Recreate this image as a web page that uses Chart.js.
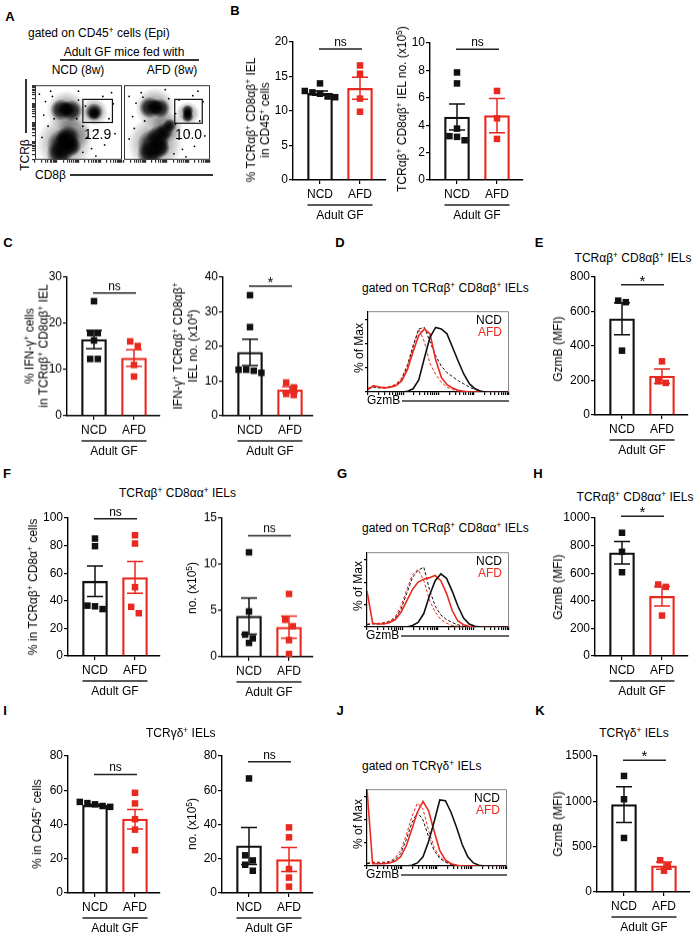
<!DOCTYPE html>
<html>
<head>
<meta charset="utf-8">
<script src="https://cdn.jsdelivr.net/npm/chart.js@4.4.1/dist/chart.umd.min.js"></script>
<style>
  body { margin: 0; background: #fff; }
  #fig { position: relative; width: 697px; height: 936px; overflow: hidden; font-family: "Liberation Sans", Arial, Helvetica, sans-serif; color: #000; }
  .t { position: absolute; white-space: nowrap; line-height: 1; }
  canvas { position: absolute; }
  sup { font-size: 70%; vertical-align: 0.45em; line-height: 0; }
  .ln { position: absolute; background: #333; }
</style>
</head>
<body>
<div id="fig"></div>
<script>
/* --- DATA --- */

const groups = ['NCD', 'AFD'];

// B: TCRab+ CD8ab+ IEL
const bPctMean = [12.6, 13.3];
const bPctSem = [0.3, 1.6];
const bPctNCD = [14.0, 12.9, 12.7, 12.5, 12.1, 12.0];
const bPctAFD = [16.6, 15.4, 11.8, 9.9];
const bNoMean = [4.6, 4.7];
const bNoSem = [0.95, 1.25];
const bNoNCD = [7.85, 7.05, 3.75, 3.2, 3.15, 2.9];
const bNoAFD = [6.5, 4.5, 3.0];

// C: IFN-g+
const cPctMean = [16.5, 12.5];
const cPctSem = [2.0, 1.8];
const cPctNCD = [24.8, 17.9, 17.9, 16.3, 12.3, 12.3];
const cPctAFD = [16.1, 15.1, 11.0, 8.5];
const cNoMean = [18.3, 7.5];
const cNoSem = [3.8, 0.9];
const cNoNCD = [34.8, 25.6, 13.3, 13.3, 13.0, 12.4];
const cNoAFD = [9.6, 8.2, 6.3, 6.0];

// E: GzmB MFI, CD8ab
const eMean = [558, 225];
const eSem = [93, 42];
const eNCD = [663, 654, 373];
const eAFD = [311, 196, 186];

// F: TCRab+ CD8aa+
const fPctMean = [54.2, 56.9];
const fPctSem = [11.0, 11.5];
const fPctNCD = [85.1, 79.6, 36.5, 36.0, 34.0];
const fPctAFD = [87.5, 81.5, 49.9, 35.6, 31.0];
const fNoMean = [4.4, 3.2];
const fNoSem = [1.95, 1.2];
const fNoNCD = [11.3, 4.9, 2.4, 2.0, 1.5];
const fNoAFD = [6.8, 4.0, 3.3, 1.8, 0.3];

// H: GzmB MFI, CD8aa
const hMean = [748, 433];
const hSem = [82, 70];
const hNCD = [893, 755, 607];
const hAFD = [518, 501, 293];

// I: TCRgd+
const iPctMean = [51.2, 43.1];
const iPctSem = [0.6, 5.7];
const iPctNCD = [53.2, 52.5, 51.8, 50.8, 50.3];
const iPctAFD = [58.5, 52.3, 43.1, 37.0, 25.0];
const iNoMean = [27.5, 19.5];
const iNoSem = [10.8, 7.0];
const iNoNCD = [66.9, 22.0, 19.0, 16.5, 13.0];
const iNoAFD = [38.3, 32.5, 14.0, 9.0, 3.7];

// K: GzmB MFI, TCRgd
const kMean = [964, 290];
const kSem = [197, 40];
const kNCD = [1280, 1023, 596];
const kAFD = [350, 290, 235];

// histograms (GzmB channel 0-100, % of max)
const histX = [0, 4, 8, 12, 16, 20, 24, 28, 32, 36, 40, 44, 48, 52, 56, 60, 64, 68, 72, 76, 80, 84, 88, 92, 96, 100];
const dNCD    = [0, 0, 0, 0, 0, 0, 0, 1, 4, 15, 42, 68, 80, 78, 72, 55, 38, 22, 10, 4, 1, 0, 0, 0, 0, 0];
const dAFD    = [3, 8, 6, 5, 6, 8, 14, 28, 50, 70, 78, 72, 40, 18, 9, 5, 2, 1, 0, 0, 0, 0, 0, 0, 0, 0];
const dNCDiso = [4, 6, 5, 5, 6, 9, 16, 32, 56, 78, 80, 62, 45, 32, 24, 19, 14, 10, 6, 3, 1, 0, 0, 0, 0, 0];
const dAFDiso = [5, 7, 6, 6, 7, 10, 18, 34, 58, 78, 62, 35, 22, 12, 6, 3, 1, 0, 0, 0, 0, 0, 0, 0, 0, 0];
const gNCD    = [0, 0, 0, 0, 0, 0, 0, 0, 2, 6, 18, 42, 62, 71, 65, 48, 28, 12, 4, 1, 0, 0, 0, 0, 0, 0];
const gAFD    = [48, 5, 4, 4, 6, 10, 20, 35, 50, 60, 64, 66, 69, 62, 45, 22, 8, 3, 1, 0, 0, 0, 0, 0, 0, 0];
const gNCDiso = [3, 4, 4, 5, 7, 12, 24, 45, 66, 76, 80, 50, 28, 16, 10, 6, 3, 1, 0, 0, 0, 0, 0, 0, 0, 0];
const gAFDiso = [4, 5, 5, 6, 8, 14, 28, 50, 70, 77, 62, 36, 20, 10, 5, 2, 1, 0, 0, 0, 0, 0, 0, 0, 0, 0];
const jNCD    = [0, 0, 0, 0, 0, 0, 0, 0, 1, 4, 12, 32, 58, 86, 85, 70, 50, 28, 12, 4, 1, 0, 0, 0, 0, 0];
const jAFD    = [100, 3, 3, 3, 4, 6, 12, 26, 48, 70, 84, 72, 45, 20, 8, 3, 1, 0, 0, 0, 0, 0, 0, 0, 0, 0];
const jNCDiso = [3, 4, 4, 4, 5, 8, 16, 34, 56, 70, 60, 38, 20, 10, 5, 2, 1, 0, 0, 0, 0, 0, 0, 0, 0, 0];
const jAFDiso = [4, 5, 5, 5, 6, 10, 20, 40, 64, 82, 74, 46, 24, 12, 6, 3, 1, 0, 0, 0, 0, 0, 0, 0, 0, 0];

// A: dot plots (CD8b x, TCRb y, 0-100), population blobs [x, y, spread]
const aNcdHalo = [[36, 66, 20], [68, 64, 14], [34, 22, 28], [45, 36, 18]];
const aNcdCore = [[30, 67, 11], [42, 66, 11], [36, 68, 8], [68, 64, 9], [68, 62, 6], [32, 20, 16], [38, 30, 12], [28, 8, 13], [42, 18, 10], [34, 24, 10]];
const aNcdDots = [[5, 88], [12, 78], [18, 92], [22, 55], [50, 80], [55, 45], [60, 30], [72, 40], [80, 20], [85, 55], [90, 75], [88, 90], [15, 45], [8, 30], [55, 10], [65, 15], [48, 55], [58, 72], [20, 85], [78, 85], [92, 35], [70, 5], [10, 60], [50, 92]];
const aAfdHalo = [[36, 70, 20], [74, 62, 12], [36, 22, 28], [50, 44, 16]];
const aAfdCore = [[30, 70, 11], [42, 69, 10], [36, 71, 8], [74, 66, 6], [74, 58, 6], [74, 62, 5], [34, 20, 16], [40, 30, 12], [30, 8, 13], [47, 38, 9], [53, 46, 7], [42, 16, 10]];
const aAfdDots = [[6, 85], [14, 76], [20, 90], [24, 52], [52, 82], [60, 48], [64, 28], [76, 36], [82, 18], [88, 52], [92, 78], [86, 92], [12, 42], [6, 28], [58, 8], [68, 14], [60, 62], [22, 84], [80, 86], [94, 32], [72, 4], [10, 58], [48, 94], [64, 80]];
const aGates = [[55, 89, 50, 81], [59, 91, 49, 81]];
const aFreq = ['12.9', '10.0'];

/* --- DRAWING --- */

const RED = '#e9291f';
const BLACK = '#111';
const FONT = '"Liberation Sans", Arial, Helvetica, sans-serif';
Chart.defaults.font.family = FONT;
Chart.defaults.color = '#000';
const fig = document.getElementById('fig');

function addText(html, x, y, o = {}) {
    const d = document.createElement('div');
    d.className = 't';
    d.innerHTML = html;
    d.style.left = x + 'px';
    d.style.top = y + 'px';
    d.style.fontSize = (o.size || 12) + 'px';
    if (o.bold) d.style.fontWeight = 'bold';
    if (o.color) d.style.color = o.color;
    if (o.lh) d.style.lineHeight = o.lh + 'px';
    let tf = o.align === 'left' ? 'translate(0,-50%)' : 'translate(-50%,-50%)';
    if (o.rotate) { tf += ' rotate(-90deg)'; d.style.textAlign = 'center'; }
    d.style.transform = tf;
    fig.appendChild(d);
}

function addLine(x, y, w, h) {
    const d = document.createElement('div');
    d.className = 'ln';
    d.style.left = x + 'px'; d.style.top = y + 'px';
    d.style.width = w + 'px'; d.style.height = h + 'px';
    fig.appendChild(d);
}

function makeCanvas(left, top, w, h) {
    const cv = document.createElement('canvas');
    cv.width = w; cv.height = h;
    cv.style.left = left + 'px'; cv.style.top = top + 'px';
    cv.style.width = w + 'px'; cv.style.height = h + 'px';
    fig.appendChild(cv);
    return cv;
}

// Prism-like rows: points closer than ~6.5px share a row
function swarm(vals, unitPx, cx) {
    const rows = [];
    vals.slice().sort((a, b) => b - a).forEach(v => {
        const row = rows[rows.length - 1];
        if (row && (row[0] - v) * unitPx < 6.5) row.push(v);
        else rows.push([v]);
    });
    const out = [];
    rows.forEach(row => row.forEach((v, i) => out.push({ x: cx + (i - (row.length - 1) / 2) * 0.19, y: v })));
    return out;
}

const axisGrid = (len) => ({ display: true, drawOnChartArea: false, drawTicks: true, tickLength: len, color: '#000', lineWidth: 1.2 });
const axisBorder = { display: true, color: '#000', width: 1.4 };

function barPanel(p) {
    const L = 60, T = 30, R = 10, B = 50;
    const w = p.x1 - p.x0, h = p.yZero - p.yTop;
    const cv = makeCanvas(p.x0 - L, p.yTop - T, w + L + R, h + T + B);
    const xMin = 1 - 27 / 40;
    const unitPx = h / p.max;

    const deco = {
        id: 'deco',
        afterDatasetsDraw(chart) {
            const { ctx, chartArea, scales: { x, y } } = chart;
            ctx.save();
            // SEM bars
            ctx.lineWidth = 1.5;
            p.mean.forEach((m, i) => {
                const cx = x.getPixelForValue(i + 1);
                const yt = y.getPixelForValue(m + p.sem[i]);
                const yb = y.getPixelForValue(m - p.sem[i]);
                ctx.strokeStyle = i ? RED : BLACK;
                ctx.beginPath();
                ctx.moveTo(cx, yt); ctx.lineTo(cx, yb);
                ctx.moveTo(cx - 8, yt); ctx.lineTo(cx + 8, yt);
                ctx.moveTo(cx - 8, yb); ctx.lineTo(cx + 8, yb);
                ctx.stroke();
            });
            // significance
            const sy = y.getPixelForValue(p.sig[1]);
            const sx0 = x.getPixelForValue(1) - 1, sx1 = x.getPixelForValue(2) + 2;
            ctx.strokeStyle = '#222';
            ctx.beginPath(); ctx.moveTo(sx0, sy); ctx.lineTo(sx1, sy); ctx.stroke();
            ctx.fillStyle = '#000';
            ctx.textAlign = 'center';
            ctx.textBaseline = 'alphabetic';
            if (p.sig[0] === '*') {
                ctx.font = '15px ' + FONT;
                ctx.fillText('*', (sx0 + sx1) / 2, sy + 1);
            } else {
                ctx.font = '12px ' + FONT;
                ctx.fillText('ns', (sx0 + sx1) / 2, sy - 3);
            }
            // group bracket
            const gx0 = x.getPixelForValue(1) - 12.5, gx1 = x.getPixelForValue(2) + 12.5;
            const gy = chartArea.bottom + 25;
            ctx.strokeStyle = '#222';
            ctx.beginPath(); ctx.moveTo(gx0, gy); ctx.lineTo(gx1, gy); ctx.stroke();
            ctx.font = '12px ' + FONT;
            ctx.textBaseline = 'middle';
            ctx.fillText('Adult GF', (gx0 + gx1) / 2, chartArea.bottom + 36);
            ctx.restore();
        }
    };

    new Chart(cv, {
        type: 'bar',
        data: {
            datasets: [
                { type: 'scatter', data: swarm(p.pts[0], unitPx, 1), backgroundColor: BLACK, pointStyle: 'rect', pointRadius: 4.6, borderWidth: 0, order: 0 },
                { type: 'scatter', data: swarm(p.pts[1], unitPx, 2), backgroundColor: RED, pointStyle: 'rect', pointRadius: 4.6, borderWidth: 0, order: 0 },
                {
                    type: 'bar',
                    data: p.mean.map((m, i) => ({ x: i + 1, y: m })),
                    backgroundColor: 'rgba(255,255,255,0)',
                    borderColor: [BLACK, RED],
                    borderWidth: 1.6,
                    barThickness: 25,
                    order: 1
                }
            ]
        },
        options: {
            responsive: false,
            animation: false,
            devicePixelRatio: 1,
            events: [],
            layout: { autoPadding: false, padding: { top: T, right: R, left: 0, bottom: 0 } },
            plugins: { legend: { display: false }, tooltip: { enabled: false } },
            scales: {
                x: {
                    type: 'linear',
                    min: xMin,
                    max: xMin + w / 40,
                    offset: false,
                    afterBuildTicks: s => { s.ticks = [{ value: 1 }, { value: 2 }]; },
                    afterFit: s => { s.height = B; },
                    ticks: { callback: v => groups[v - 1], font: { size: 12 }, color: '#000', padding: 3, autoSkip: false, maxRotation: 0 },
                    grid: Object.assign(axisGrid(4), { offset: false }),
                    border: axisBorder
                },
                y: {
                    min: 0,
                    max: p.max,
                    afterFit: s => { s.width = L; },
                    ticks: { stepSize: p.step, callback: v => String(v), font: { size: 12 }, color: '#000', padding: 1 },
                    grid: axisGrid(4),
                    border: axisBorder
                }
            }
        },
        plugins: [deco]
    });

    addText(p.ytitle, p.x0 + p.tx, p.yTop + h / 2 + (p.ty || 0), { rotate: true, lh: p.lh || 14 });
}

const histTicks = [];
for (let d = 0; d < 4; d++) for (let k = 1; k < 10; k++) histTicks.push(d * 25 + 25 * Math.log10(k));
histTicks.push(100);

function histPanel(p) {
    const L = 8, T = 2, R = 2, B = 20;
    const w = p.x1 - p.x0, h = p.y1 - p.y0;
    const cv = makeCanvas(p.x0 - L, p.y0 - T, w + L + R, h + T + B);
    const series = [
        [p.ncd, BLACK, []],
        [p.afd, RED, []],
        [p.ncdIso, BLACK, [3, 2]],
        [p.afdIso, RED, [3, 2]]
    ];

    const deco = {
        id: 'histDeco',
        afterDraw(chart) {
            const { ctx, chartArea: a } = chart;
            ctx.save();
            ctx.strokeStyle = '#888';
            ctx.lineWidth = 1;
            ctx.beginPath();
            ctx.moveTo(a.left, a.top + 0.5); ctx.lineTo(a.right - 0.5, a.top + 0.5); ctx.lineTo(a.right - 0.5, a.bottom);
            ctx.stroke();
            ctx.font = '12px ' + FONT;
            ctx.textAlign = 'right';
            ctx.textBaseline = 'middle';
            ctx.fillStyle = '#000';
            ctx.fillText('NCD', a.right - 7, a.top + 9);
            ctx.fillStyle = RED;
            ctx.fillText('AFD', a.right - 7, a.top + 21);
            ctx.fillStyle = '#000';
            ctx.textAlign = 'left';
            ctx.fillText('GzmB', a.left - 1, a.bottom + 9);
            ctx.strokeStyle = '#333';
            ctx.lineWidth = 1.3;
            ctx.beginPath(); ctx.moveTo(a.left + 34, a.bottom + 9); ctx.lineTo(a.right, a.bottom + 9); ctx.stroke();
            ctx.restore();
        }
    };

    new Chart(cv, {
        type: 'line',
        data: {
            datasets: series.map(([v, c, dash]) => ({
                data: histX.map((x, i) => ({ x, y: v[i] })),
                borderColor: c,
                borderWidth: dash.length ? 1 : 1.6,
                borderDash: dash,
                pointRadius: 0,
                tension: 0,
                fill: false
            }))
        },
        options: {
            responsive: false,
            animation: false,
            devicePixelRatio: 1,
            events: [],
            layout: { autoPadding: false, padding: { top: T, right: R, left: 0, bottom: 0 } },
            plugins: { legend: { display: false }, tooltip: { enabled: false } },
            scales: {
                x: {
                    type: 'linear', min: 0, max: 100,
                    afterBuildTicks: s => { s.ticks = histTicks.map(v => ({ value: v })); },
                    afterFit: s => { s.height = B; },
                    ticks: { callback: () => '', autoSkip: false, maxRotation: 0 },
                    grid: axisGrid(3),
                    border: { display: true, color: '#000', width: 1.2 }
                },
                y: {
                    min: 0, max: 100,
                    afterFit: s => { s.width = L; },
                    ticks: { stepSize: 10, callback: () => '' },
                    grid: axisGrid(3),
                    border: { display: true, color: '#000', width: 1.2 }
                }
            }
        },
        plugins: [deco]
    });

    addText('% of Max', p.x0 - 9, p.y0 + h / 2, { rotate: true });
}

function blobFill(alpha) {
    const flat = 'rgba(0,0,0,' + alpha * 0.4 + ')';
    return (c) => {
        const r = c.raw;
        const ch = c.chart;
        if (!r || !ch.scales || !ch.scales.x || !ch.scales.y) return flat;
        const px = ch.scales.x.getPixelForValue(r.x), py = ch.scales.y.getPixelForValue(r.y);
        if (!isFinite(px) || !isFinite(py) || !isFinite(r.r)) return flat;
        const g = ch.ctx.createRadialGradient(px, py, 0, px, py, Math.max(r.r, 1));
        g.addColorStop(0, 'rgba(0,0,0,' + alpha + ')');
        g.addColorStop(0.55, 'rgba(0,0,0,' + alpha * 0.75 + ')');
        g.addColorStop(1, 'rgba(0,0,0,0)');
        return g;
    };
}

function dotPanel(p) {
    const L = 6, T = 1, R = 2, B = 6;
    const w = p.x1 - p.x0, h = p.y1 - p.y0;
    const cv = makeCanvas(p.x0 - L, p.y0 - T, w + L + R, h + T + B);

    const deco = {
        id: 'dotDeco',
        afterDraw(chart) {
            const { ctx, chartArea: a, scales: { x, y } } = chart;
            ctx.save();
            ctx.strokeStyle = '#333';
            ctx.lineWidth = 1;
            ctx.strokeRect(a.left + 0.5, a.top + 0.5, a.right - a.left - 1, a.bottom - a.top - 1);
            const g = p.gate;
            ctx.strokeStyle = '#111';
            ctx.lineWidth = 1.2;
            ctx.strokeRect(x.getPixelForValue(g[0]), y.getPixelForValue(g[3]),
                x.getPixelForValue(g[1]) - x.getPixelForValue(g[0]), y.getPixelForValue(g[2]) - y.getPixelForValue(g[3]));
            ctx.fillStyle = '#000';
            ctx.font = '14px ' + FONT;
            ctx.textAlign = 'center';
            ctx.textBaseline = 'middle';
            ctx.fillText(p.freq, x.getPixelForValue((g[0] + g[1]) / 2), y.getPixelForValue(33));
            ctx.restore();
        }
    };

    new Chart(cv, {
        type: 'bubble',
        data: {
            datasets: [
                { data: p.halo.map(([x, y, r]) => ({ x, y, r })), backgroundColor: blobFill(0.35), borderWidth: 0 },
                { data: p.core.map(([x, y, r]) => ({ x, y, r })), backgroundColor: blobFill(0.95), borderWidth: 0 },
                { type: 'scatter', data: p.dots.map(([x, y]) => ({ x, y })), backgroundColor: '#000', pointRadius: 0.9, borderWidth: 0 }
            ]
        },
        options: {
            responsive: false,
            animation: false,
            devicePixelRatio: 1,
            events: [],
            layout: { autoPadding: false, padding: { top: T, right: R, left: 0, bottom: 0 } },
            plugins: { legend: { display: false }, tooltip: { enabled: false } },
            scales: {
                x: {
                    type: 'linear', min: 0, max: 100,
                    afterBuildTicks: s => { s.ticks = histTicks.map(v => ({ value: v })); },
                    afterFit: s => { s.height = B; },
                    ticks: { callback: () => '', autoSkip: false, maxRotation: 0 },
                    grid: Object.assign(axisGrid(3), { color: '#333' }),
                    border: { display: false }
                },
                y: {
                    type: 'linear', min: 0, max: 100,
                    afterBuildTicks: s => { s.ticks = histTicks.map(v => ({ value: v })); },
                    afterFit: s => { s.width = L; },
                    ticks: { callback: () => '', autoSkip: false },
                    grid: Object.assign(axisGrid(3), { color: '#333', display: p.leftTicks }),
                    border: { display: false }
                }
            }
        },
        plugins: [deco]
    });
}

/* --- LAYOUT --- */

// panel letters
[['A', 10, 16], ['B', 235, 10], ['C', 8, 242], ['D', 340, 242], ['E', 539, 242], ['F', 7, 473],
 ['G', 342, 473], ['H', 538, 473], ['I', 5, 710], ['J', 340, 710], ['K', 540, 710]]
    .forEach(([t, x, y]) => addText(t, x, y, { size: 13, bold: true }));

// A
addText('gated on CD45<sup>+</sup> cells (Epi)', 28, 33, { align: 'left' });
addText('Adult GF mice fed with', 124, 52);
addLine(60, 59, 139, 1.5);
addText('NCD (8w)', 78, 70);
addText('AFD (8w)', 172, 70);
addLine(25, 79, 1.5, 54);
addText('TCRβ', 25, 155, { rotate: true });
addText('CD8β', 35, 175, { align: 'left' });
addLine(70, 174, 143, 1.5);
dotPanel({ x0: 35, y0: 76, x1: 123, y1: 164, halo: aNcdHalo, core: aNcdCore, dots: aNcdDots, gate: aGates[0], freq: aFreq[0], leftTicks: true });
dotPanel({ x0: 124, y0: 76, x1: 211, y1: 164, halo: aAfdHalo, core: aAfdCore, dots: aAfdDots, gate: aGates[1], freq: aFreq[1], leftTicks: false });

// B
barPanel({ x0: 293, yTop: 42, x1: 386, yZero: 180, max: 20, step: 5, mean: bPctMean, sem: bPctSem, pts: [bPctNCD, bPctAFD], sig: ['ns', 19],
    ytitle: '% TCRαβ<sup>+</sup> CD8αβ<sup>+</sup> IEL<br>in CD45<sup>+</sup> cells', tx: -35.5, ty: 9, lh: 14 });
barPanel({ x0: 430, yTop: 42.7, x1: 523, yZero: 180, max: 10, step: 2, mean: bNoMean, sem: bNoSem, pts: [bNoNCD, bNoAFD], sig: ['ns', 9.54],
    ytitle: 'TCRαβ<sup>+</sup> CD8αβ<sup>+</sup> IEL no. (x10<sup>5</sup>)', tx: -28, ty: -2 });

// C
barPanel({ x0: 67, yTop: 277, x1: 160, yZero: 415.5, max: 30, step: 10, mean: cPctMean, sem: cPctSem, pts: [cPctNCD, cPctAFD], sig: ['ns', 26.6],
    ytitle: '% IFN-γ<sup>+</sup> cells<br>in TCRαβ<sup>+</sup> CD8αβ<sup>+</sup> IEL', tx: -30, lh: 13.5 });
barPanel({ x0: 223, yTop: 277, x1: 313, yZero: 415.5, max: 40, step: 10, mean: cNoMean, sem: cNoSem, pts: [cNoNCD, cNoAFD], sig: ['*', 37.4],
    ytitle: 'IFN-γ<sup>+</sup> TCRαβ<sup>+</sup> CD8αβ<sup>+</sup><br>IEL no. (x10<sup>4</sup>)', tx: -37.5, lh: 15 });

// D
addText('gated on TCRαβ<sup>+</sup> CD8αβ<sup>+</sup> IELs', 362, 288, { align: 'left' });
histPanel({ x0: 368, y0: 303, x1: 510, y1: 392, ncd: dNCD, afd: dAFD, ncdIso: dNCDiso, afdIso: dAFDiso });

// E
addText('TCRαβ<sup>+</sup> CD8αβ<sup>+</sup> IELs', 633, 258);
barPanel({ x0: 595, yTop: 277.3, x1: 688, yZero: 415.5, max: 800, step: 200, mean: eMean, sem: eSem, pts: [eNCD, eAFD], sig: ['*', 755],
    ytitle: 'GzmB (MFI)', tx: -37, ty: 3 });

// F
addText('TCRαβ<sup>+</sup> CD8αα<sup>+</sup> IELs', 119, 493, { align: 'left' });
barPanel({ x0: 68, yTop: 518.3, x1: 160, yZero: 656.5, max: 100, step: 20, mean: fPctMean, sem: fPctSem, pts: [fPctNCD, fPctAFD], sig: ['ns', 99.4],
    ytitle: '% in TCRαβ<sup>+</sup> CD8α<sup>+</sup> cells', tx: -35 });
barPanel({ x0: 222, yTop: 518.3, x1: 313, yZero: 656.7, max: 15, step: 5, mean: fNoMean, sem: fNoSem, pts: [fNoNCD, fNoAFD], sig: ['ns', 13.1],
    ytitle: 'no. (x10<sup>5</sup>)', tx: -30 });

// G
addText('gated on TCRαβ<sup>+</sup> CD8αα<sup>+</sup> IELs', 362, 528, { align: 'left' });
histPanel({ x0: 367, y0: 544, x1: 510, y1: 627, ncd: gNCD, afd: gAFD, ncdIso: gNCDiso, afdIso: gAFDiso });

// H
addText('TCRαβ<sup>+</sup> CD8αα<sup>+</sup> IELs', 635, 497);
barPanel({ x0: 595, yTop: 518.3, x1: 688, yZero: 656.5, max: 1000, step: 200, mean: hMean, sem: hSem, pts: [hNCD, hAFD], sig: ['*', 1012],
    ytitle: 'GzmB (MFI)', tx: -37 });

// I
addText('TCRγδ<sup>+</sup> IELs', 146, 733, { align: 'left' });
barPanel({ x0: 68, yTop: 755.7, x1: 160, yZero: 893, max: 80, step: 20, mean: iPctMean, sem: iPctSem, pts: [iPctNCD, iPctAFD], sig: ['ns', 69.2],
    ytitle: '% in CD45<sup>+</sup> cells', tx: -31 });
barPanel({ x0: 222, yTop: 755.7, x1: 313, yZero: 893, max: 80, step: 20, mean: iNoMean, sem: iNoSem, pts: [iNoNCD, iNoAFD], sig: ['ns', 76.6],
    ytitle: 'no. (x10<sup>5</sup>)', tx: -30 });

// J
addText('gated on TCRγδ<sup>+</sup> IELs', 362, 766, { align: 'left' });
histPanel({ x0: 367, y0: 781, x1: 508, y1: 866, ncd: jNCD, afd: jAFD, ncdIso: jNCDiso, afdIso: jAFDiso });

// K
addText('TCRγδ<sup>+</sup> IELs', 634, 733);
barPanel({ x0: 597, yTop: 755.7, x1: 690, yZero: 891.7, max: 1500, step: 500, mean: kMean, sem: kSem, pts: [kNCD, kAFD], sig: ['*', 1453],
    ytitle: 'GzmB (MFI)', tx: -39 });
</script>
</body>
</html>
